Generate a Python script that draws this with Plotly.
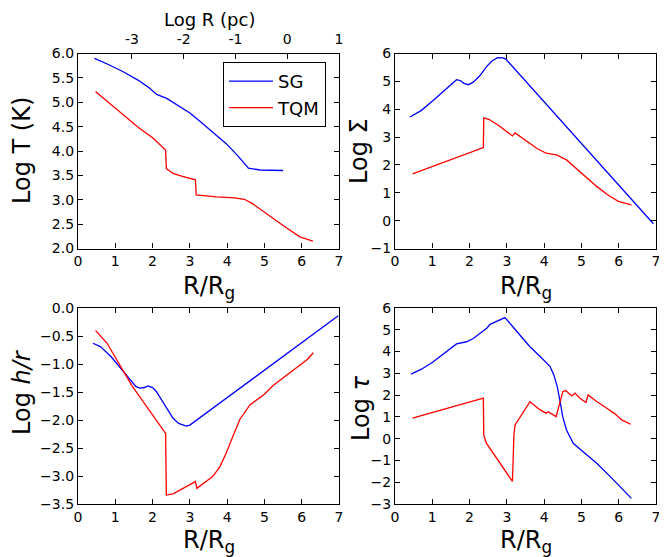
import plotly.graph_objects as go

# ---------------- data ----------------
# Panel 1: Log T (K)
sg_T_x = [0.44, 0.8, 1.2, 1.62, 1.9, 2.11, 2.38, 2.65, 3.0, 3.27, 3.6, 3.99, 4.3, 4.57, 4.88, 5.2, 5.5]
sg_T_y = [5.90, 5.78, 5.63, 5.45, 5.30, 5.16, 5.08, 4.95, 4.78, 4.61, 4.39, 4.14, 3.89, 3.65, 3.61, 3.60, 3.60]
tqm_T_x = [0.47, 1.0, 1.62, 2.0, 2.35, 2.37, 2.55, 2.8, 3.15, 3.17, 3.71, 4.2, 4.46, 4.68, 5.0, 5.5, 5.95, 6.3]
tqm_T_y = [5.22, 4.88, 4.48, 4.27, 4.02, 3.64, 3.54, 3.48, 3.41, 3.10, 3.06, 3.04, 3.01, 2.92, 2.74, 2.47, 2.24, 2.15]

# Panel 2: Log Sigma
sg_S_x = [0.40, 0.7, 1.03, 1.3, 1.55, 1.65, 1.75, 1.85, 1.97, 2.1, 2.28, 2.45, 2.6, 2.75, 2.9, 2.97, 6.93]
sg_S_y = [3.72, 3.95, 4.32, 4.64, 4.97, 5.06, 5.03, 4.93, 4.88, 4.97, 5.21, 5.52, 5.73, 5.85, 5.84, 5.80, -0.11]
tqm_S_x = [0.47, 2.37, 2.38, 2.53, 2.8, 3.15, 3.22, 3.5, 3.8, 4.05, 4.33, 4.6, 5.0, 5.41, 5.7, 5.99, 6.34]
tqm_S_y = [1.68, 2.62, 3.69, 3.63, 3.40, 3.04, 3.15, 2.88, 2.60, 2.42, 2.36, 2.18, 1.70, 1.23, 0.93, 0.69, 0.57]

# Panel 3: Log h/r
sg_h_x = [0.40, 0.6, 0.89, 1.15, 1.43, 1.55, 1.65, 1.78, 1.88, 2.0, 2.10, 2.2, 2.32, 2.45, 2.55, 2.7, 2.90, 3.0, 6.98]
sg_h_y = [-0.63, -0.69, -0.87, -1.08, -1.32, -1.40, -1.43, -1.42, -1.39, -1.42, -1.49, -1.60, -1.73, -1.88, -1.97, -2.06, -2.11, -2.09, -0.14]
tqm_h_x = [0.47, 0.78, 1.0, 1.44, 2.35, 2.37, 2.55, 3.15, 3.19, 3.61, 3.8, 3.97, 4.15, 4.34, 4.61, 5.0, 5.24, 5.6, 5.95, 6.15, 6.31]
tqm_h_y = [-0.40, -0.63, -0.88, -1.38, -2.24, -3.34, -3.32, -3.10, -3.22, -3.01, -2.84, -2.60, -2.30, -1.99, -1.73, -1.54, -1.38, -1.20, -1.02, -0.92, -0.80]

# Panel 4: Log tau
sg_tau_x = [0.43, 0.71, 1.0, 1.3, 1.65, 1.92, 2.1, 2.3, 2.46, 2.55, 2.75, 2.95, 3.2, 3.4, 3.62, 3.9, 4.16, 4.26, 4.35, 4.42, 4.5, 4.6, 4.7, 4.78, 5.1, 5.41, 5.8, 6.34]
sg_tau_y = [2.96, 3.19, 3.50, 3.88, 4.35, 4.45, 4.60, 4.86, 5.07, 5.25, 5.40, 5.56, 5.06, 4.66, 4.22, 3.76, 3.31, 2.93, 2.40, 1.78, 1.00, 0.40, 0.05, -0.21, -0.68, -1.13, -1.79, -2.74]
tqm_tau_x = [0.47, 2.37, 2.38, 2.45, 3.15, 3.19, 3.22, 3.62, 3.89, 4.05, 4.11, 4.32, 4.50, 4.58, 4.74, 4.83, 4.96, 5.12, 5.18, 5.4, 5.68, 5.9, 6.08, 6.32]
tqm_tau_y = [0.94, 1.86, 0.17, -0.21, -1.96, 0.2, 0.63, 1.70, 1.32, 1.17, 1.24, 1.01, 2.16, 2.21, 1.96, 2.09, 1.86, 1.66, 2.01, 1.72, 1.40, 1.14, 0.86, 0.66]

# top axis ticks (Log R in pc)
top_tick_vals = [-3, -2, -1, 0, 1]
top_tick_text = ["-3", "-2", "-1", "0", "1"]

series_names = ["SG", "TQM"]
y_titles = ["Log T (K)", "Log Σ", "Log <i>h/r</i>", "Log <i>τ</i>"]
x_title = "R/R<sub>g</sub>"
top_title = "Log R (pc)"

BLUE = "#0000ff"
RED = "#ff0000"

# ---------------- figure ----------------
fig = go.Figure()

panels = [
    (sg_T_x, sg_T_y, tqm_T_x, tqm_T_y, "x", "y"),
    (sg_S_x, sg_S_y, tqm_S_x, tqm_S_y, "x2", "y2"),
    (sg_h_x, sg_h_y, tqm_h_x, tqm_h_y, "x3", "y3"),
    (sg_tau_x, sg_tau_y, tqm_tau_x, tqm_tau_y, "x4", "y4"),
]
for i, (sx, sy, tx, ty, xa, ya) in enumerate(panels):
    fig.add_trace(go.Scatter(x=sx, y=sy, mode="lines", name=series_names[0],
                             line=dict(color=BLUE, width=1.3), xaxis=xa, yaxis=ya,
                             showlegend=(i == 0)))
    fig.add_trace(go.Scatter(x=tx, y=ty, mode="lines", name=series_names[1],
                             line=dict(color=RED, width=1.3), xaxis=xa, yaxis=ya,
                             showlegend=(i == 0)))

# invisible trace for top axis
fig.add_trace(go.Scatter(x=[top_tick_vals[0]], y=[4], mode="markers", marker=dict(opacity=0),
                         xaxis="x5", yaxis="y", showlegend=False, hoverinfo="skip"))

# page has an 8px body margin: work in page pixels and shift
OFF = 8
W, H = 667 - OFF, 557 - OFF

def px(x):
    return (x - OFF) / W

def py(y):
    return 1 - (y - OFF) / H

xl = [px(78), px(339)]
xr = [px(395), px(656)]
yt = [py(248.5), py(53.5)]
yb = [py(504), py(308)]

FONT = "DejaVu Sans"
tickfont = dict(family=FONT, size=14, color="black")
titlefont = dict(family=FONT, size=24, color="black")

def xax(domain, anchor, mirror):
    return dict(domain=domain, anchor=anchor, range=[0, 7], dtick=1, tick0=0,
                showline=True, linecolor="black", linewidth=1.2, mirror=mirror,
                ticks="inside", ticklen=5, tickcolor="black", showgrid=False,
                zeroline=False, tickfont=tickfont, automargin=False)

def yax(domain, anchor, rng, dtick, fmt):
    return dict(domain=domain, anchor=anchor, range=rng, dtick=dtick, tick0=0,
                showline=True, linecolor="black", linewidth=1.2, mirror="ticks",
                ticks="inside", ticklen=5, tickcolor="black", showgrid=False,
                zeroline=False, tickfont=tickfont, tickformat=fmt, automargin=False)

annotations = []
for (cx, cy), txt in zip([(22, 151), (359, 151), (22, 392), (361, 408)], y_titles):
    annotations.append(dict(x=px(cx), y=py(cy), xref="paper", yref="paper",
                            text=txt, textangle=-90, showarrow=False,
                            xanchor="center", yanchor="middle", font=titlefont))
for cx, cy in [(208.5, 287), (525.5, 287), (208.5, 541), (525.5, 541)]:
    annotations.append(dict(x=px(cx), y=py(cy), xref="paper", yref="paper",
                            text=x_title, showarrow=False,
                            xanchor="center", yanchor="middle", font=titlefont))
annotations.append(dict(x=px(209), y=py(8), xref="paper", yref="paper",
                        text=top_title, showarrow=False, xanchor="center",
                        yanchor="top", borderpad=0,
                        font=dict(family=FONT, size=18, color="black")))

fig.update_layout(
    width=W, height=H,
    margin=dict(l=0, r=0, t=0, b=0),
    paper_bgcolor="white", plot_bgcolor="white",
    font=dict(family=FONT, color="black"),
    xaxis=xax(xl, "y", True),
    yaxis=yax(yt, "x", [2, 6], 0.5, ".1f"),
    xaxis2=xax(xr, "y2", "ticks"),
    yaxis2=yax(yt, "x2", [-1, 6], 1, "d"),
    xaxis3=xax(xl, "y3", "ticks"),
    yaxis3=yax(yb, "x3", [-3.5, 0], 0.5, ".1f"),
    xaxis4=xax(xr, "y4", "ticks"),
    yaxis4=yax(yb, "x4", [-3, 6], 1, "d"),
    xaxis5=dict(overlaying="x", side="top", anchor="y", range=[-4.04, 1],
                tickvals=top_tick_vals, ticktext=top_tick_text, automargin=False,
                ticks="inside", ticklen=5, tickcolor="black", showgrid=False,
                zeroline=False, showline=False, tickfont=tickfont,
                ticklabelstandoff=6),
    annotations=annotations,
    legend=dict(x=px(223), y=py(62), xanchor="left", yanchor="top",
                bordercolor="black", borderwidth=1, bgcolor="white",
                font=dict(family=FONT, size=18, color="black"),
                itemwidth=44, tracegroupgap=0),
)

fig.write_html("out.html")
